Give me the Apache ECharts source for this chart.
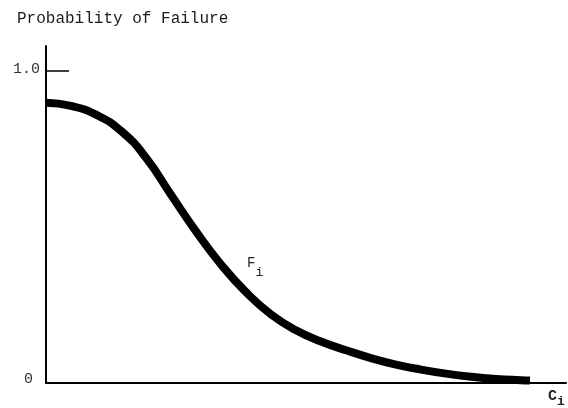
<!DOCTYPE html>
<html>
<head>
<meta charset="utf-8">
<script src="https://cdn.jsdelivr.net/npm/echarts@6/dist/echarts.min.js"></script>
<style>html,body{margin:0;padding:0;background:#fff}#c{width:568px;height:408px}</style>
</head>
<body>
<div id="c"></div>
<script>
var xValues = [0, 5, 10, 15, 20, 25, 30, 35, 40, 45, 50, 55, 60, 65, 70, 75, 80, 85, 90, 95, 96.8];
var failureProb = [0.898, 0.888, 0.860, 0.808, 0.722, 0.603, 0.486, 0.380, 0.291, 0.220, 0.169, 0.133, 0.105, 0.080, 0.059, 0.043, 0.030, 0.020, 0.013, 0.009, 0.008];
var yTickLabels = [0, 1];
var titleText = 'Probability of Failure';
var curveName = 'F';
var axisName = 'C';

var font = '"Liberation Mono", "DejaVu Sans Mono", monospace';
var chart = echarts.init(document.getElementById('c'));
chart.setOption({
  animation: false,
  backgroundColor: '#fff',
  title: {
    text: titleText, left: 12, top: 6,
    textStyle: { fontFamily: font, fontSize: 16, fontWeight: 'normal', color: '#1a1a1a' }
  },
  grid: { left: 46, right: 2, top: 46, bottom: 25, containLabel: false },
  xAxis: {
    type: 'value', min: 0, max: 104,
    axisLine: { show: true, lineStyle: { color: '#000', width: 2 } },
    axisTick: { show: false }, axisLabel: { show: false }, splitLine: { show: false }
  },
  yAxis: {
    type: 'value', min: 0, max: 1.08,
    axisLine: { show: true, lineStyle: { color: '#000', width: 2 } },
    axisTick: { show: true, inside: true, length: 23, customValues: [1], lineStyle: { color: '#000', width: 1.5 } },
    axisLabel: {
      show: true, customValues: yTickLabels, margin: 6,
      fontFamily: font, fontSize: 15, color: '#333',
      formatter: function (v) { return v === 0 ? '{z|0}' : '{o|' + v.toFixed(1) + '}'; },
      rich: {
        z: { fontFamily: font, fontSize: 15, color: '#333', padding: [0, 7, 8, 0] },
        o: { fontFamily: font, fontSize: 15, color: '#333', padding: [0, 0, 4, 0] }
      }
    },
    splitLine: { show: false }
  },
  graphic: [
    { type: 'text', left: 247, top: 256,
      style: { text: '{a|' + curveName + '}{b|i}', fontFamily: font,
        rich: { a: { fontSize: 14, fontFamily: font, fill: '#222', verticalAlign: 'top' },
                b: { fontSize: 13, fontFamily: font, fill: '#222', padding: [10, 0, 0, 0] } } } },
    { type: 'text', left: 548, top: 389,
      style: { text: '{a|' + axisName + '}{b|i}', fontFamily: font,
        rich: { a: { fontSize: 15, fontFamily: font, fill: '#222', fontWeight: 'bold' },
                b: { fontSize: 13, fontFamily: font, fill: '#222', fontWeight: 'bold', padding: [10, 0, 0, 0] } } } }
  ],
  series: [{
    type: 'line', smooth: 0.5, symbol: 'none',
    data: xValues.map(function (x, i) { return [x, failureProb[i]]; }),
    lineStyle: { color: '#000', width: 8, cap: 'butt', join: 'round' }
  }]
});
</script>
</body>
</html>
